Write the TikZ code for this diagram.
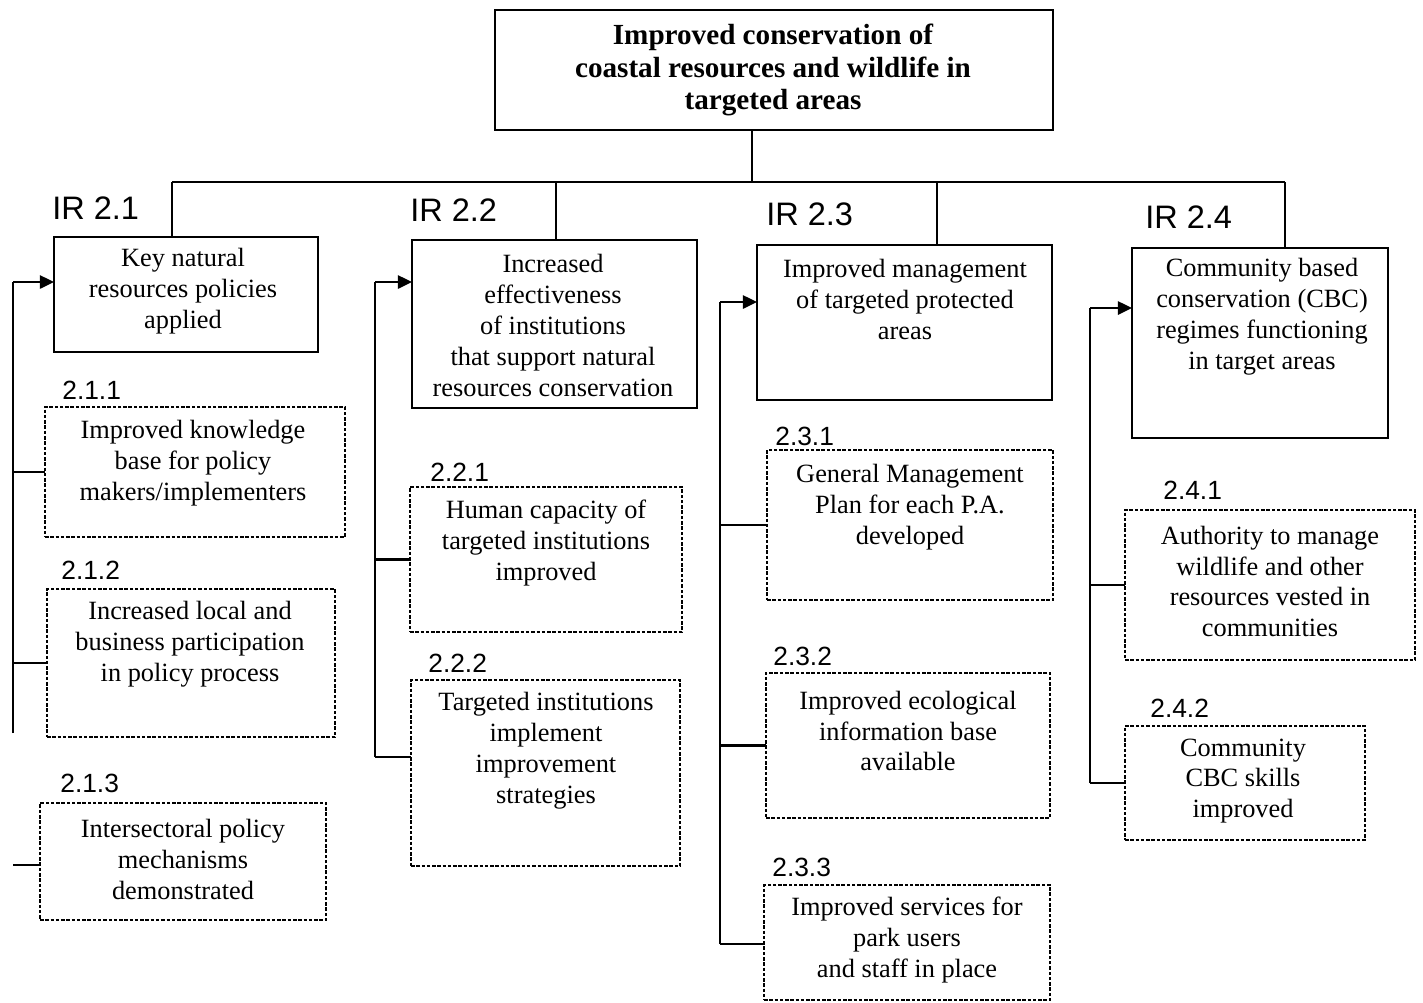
\documentclass[tikz,border=0pt]{standalone}
\usepackage{fontspec}
\setmainfont{Liberation Serif}
\newfontfamily\arialf{Liberation Sans}
\usetikzlibrary{fit,arrows.meta}
\tikzset{
 solidbox/.style={draw, line width=1.1pt, inner sep=0pt, outer sep=0pt},
 dotbox/.style={draw, line width=0.9pt, dash pattern=on 2pt off 1pt, inner sep=0pt, outer sep=0pt},
 boxtext/.style={align=center, font=\fontsize{15}{17.6}\selectfont, inner sep=0pt},
 toptext/.style={align=center, font=\bfseries\fontsize{16.6}{18.7}\selectfont, inner sep=0pt},
 irlabel/.style={anchor=west, font=\arialf\fontsize{18.5}{20}\selectfont, inner sep=0pt},
 sublabel/.style={anchor=west, font=\arialf\fontsize{15}{17}\selectfont, inner sep=0pt},
 conn/.style={line width=1.2pt},
 feed/.style={conn, -{Triangle[length=8pt,width=7.5pt]}},
}
\begin{document}
\begin{tikzpicture}[x=0.02cm, y=-0.02cm]
\useasboundingbox (0,0) rectangle (1423,1002);

% top box
\node[solidbox, fit={(495,10) (1053,130)}] (top) {};
\node[toptext] (topt) at (773,70) {Improved conservation of\\coastal resources and wildlife in\\targeted areas};

% IR boxes
\node[solidbox, fit={(54,237) (318,352)}] (ir1) {};
\node[boxtext] (ir1t) at (183,291) {Key natural\\resources policies\\applied};
\node[solidbox, fit={(412,240) (697,408)}] (ir2) {};
\node[boxtext] (ir2t) at (553,325.5) {Increased\\effectiveness\\of institutions\\that support natural\\resources conservation};
\node[solidbox, fit={(757,245) (1052,400)}] (ir3) {};
\node[boxtext] (ir3t) at (905,299.5) {Improved management\\of targeted protected\\areas};
\node[solidbox, fit={(1132,248) (1388,438)}] (ir4) {};
\node[boxtext] (ir4t) at (1262,317) {Community based\\conservation (CBC)\\regimes functioning\\in target areas};

% IR labels
\node[irlabel] (l1) at (52,208) {IR 2.1};
\node[irlabel] (l2) at (410,210) {IR 2.2};
\node[irlabel] (l3) at (766,214) {IR 2.3};
\node[irlabel] (l4) at (1145,217) {IR 2.4};

% sub boxes
\node[dotbox, fit={(45,407) (345,537)}] (s211) {};
\node[boxtext] (s211t) at (193,463) {Improved knowledge\\base for policy\\makers/implementers};
\node[sublabel] (n211) at (62,390) {2.1.1};
\node[dotbox, fit={(47,589) (335,737)}] (s212) {};
\node[boxtext] (s212t) at (190,644) {Increased local and\\business participation\\in policy process};
\node[sublabel] (n212) at (61,570) {2.1.2};
\node[dotbox, fit={(40,803) (326,920)}] (s213) {};
\node[boxtext] (s213t) at (183,859.5) {Intersectoral policy\\mechanisms\\demonstrated};
\node[sublabel] (n213) at (60,783) {2.1.3};

\node[dotbox, fit={(410,487) (682,632)}] (s221) {};
\node[boxtext] (s221t) at (546,543) {Human capacity of\\targeted institutions\\improved};
\node[sublabel] (n221) at (430,472) {2.2.1};
\node[dotbox, fit={(411,680) (680,866)}] (s222) {};
\node[boxtext] (s222t) at (546,750.5) {Targeted institutions\\implement\\improvement\\strategies};
\node[sublabel] (n222) at (428,663) {2.2.2};

\node[dotbox, fit={(767,450) (1053,600)}] (s231) {};
\node[boxtext] (s231t) at (910,507.5) {General Management\\Plan for each P.A.\\developed};
\node[sublabel] (n231) at (775,436) {2.3.1};
\node[dotbox, fit={(766,673) (1050,818)}] (s232) {};
\node[boxtext] (s232t) at (908,731) {Improved ecological\\information base\\available};
\node[sublabel] (n232) at (773,656) {2.3.2};
\node[dotbox, fit={(764,885) (1050,1000)}] (s233) {};
\node[boxtext] (s233t) at (907,940) {Improved services for\\park users\\and staff in place};
\node[sublabel] (n233) at (772,867) {2.3.3};

\node[dotbox, fit={(1125,510) (1415,660)}] (s241) {};
\node[boxtext] (s241t) at (1270,581.5) {Authority to manage\\wildlife and other\\resources vested in\\communities};
\node[sublabel] (n241) at (1163,490) {2.4.1};
\node[dotbox, fit={(1125,726) (1365,840)}] (s242) {};
\node[boxtext] (s242t) at (1243,781) {Community\\CBC skills\\improved};
\node[sublabel] (n242) at (1150,708) {2.4.2};

% top tree
\coordinate (tb) at (752,182);
\coordinate (busL) at (172,182);
\coordinate (b2) at (556,182);
\coordinate (b3) at (937,182);
\coordinate (busR) at (1285,182);
\draw[conn] (top.south -| tb) -- (tb);
\draw[conn] (busL) -- (busR);
\draw[conn] (busL) -- (busL |- ir1.north);
\draw[conn] (b2) -- (b2 |- ir2.north);
\draw[conn] (b3) -- (b3 |- ir3.north);
\draw[conn] (busR) -- (busR |- ir4.north);

% feedback group 1
\coordinate (v1t) at (13,282);
\coordinate (v1b) at (13,733);
\coordinate (st) at (13,865);
\draw[conn] (v1b) -- (v1t);
\draw[feed] (v1t) -- (v1t -| ir1.west);
\draw[conn] (v1t |- s211.west) -- (s211.west);
\draw[conn] (v1t |- s212.west) -- (s212.west);
\draw[conn] (st) -- (st -| s213.west);

% feedback group 2
\coordinate (v2t) at (375,282);
\coordinate (v2b) at (375,757);
\draw[conn] (v2b) -- (v2t);
\draw[feed] (v2t) -- (v2t -| ir2.west);
\draw[conn] (v2t |- s221.west) -- (s221.west);
\draw[conn] (v2b) -- (v2b -| s222.west);

% feedback group 3
\coordinate (v3t) at (720,302);
\coordinate (v3b) at (720,944);
\draw[conn] (v3b) -- (v3t);
\draw[feed] (v3t) -- (v3t -| ir3.west);
\draw[conn] (v3t |- s231.west) -- (s231.west);
\draw[conn] (v3t |- s232.west) -- (s232.west);
\draw[conn] (v3b) -- (v3b -| s233.west);

% feedback group 4
\coordinate (v4t) at (1090,308);
\coordinate (v4b) at (1090,783);
\draw[conn] (v4b) -- (v4t);
\draw[feed] (v4t) -- (v4t -| ir4.west);
\draw[conn] (v4t |- s241.west) -- (s241.west);
\draw[conn] (v4b) -- (v4b -| s242.west);
\end{tikzpicture}
\end{document}
